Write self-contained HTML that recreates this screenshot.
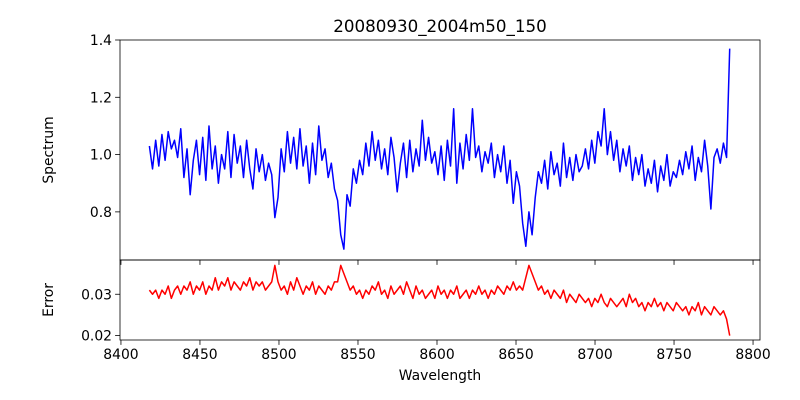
<!DOCTYPE html>
<html><head><meta charset="utf-8">
<style>
html,body{margin:0;padding:0;background:#fff;}
svg{display:block;font-family:"DejaVu Sans","Liberation Sans",sans-serif;}
</style></head>
<body>
<svg id="chart" width="800" height="400" viewBox="0 0 800 400" xmlns="http://www.w3.org/2000/svg">
<rect width="800" height="400" fill="#fff"/>
<text x="440" y="32" font-size="16.7" text-anchor="middle">20080930_2004m50_150</text>
<g id="topPanel"></g>
<g id="botPanel"></g>
<text transform="translate(53,150) rotate(-90)" font-size="13.9" text-anchor="middle">Spectrum</text>
<text transform="translate(53,300) rotate(-90)" font-size="13.9" text-anchor="middle">Error</text>
<text x="440" y="380" font-size="13.9" text-anchor="middle">Wavelength</text>
</svg>
<script>
const startWave = 8418;
const waveStep = 1.985;
const spectrum = [
1.03,0.95,1.05,0.96,1.07,0.98,1.08,1.02,1.05,0.99,
1.09,0.92,1.02,0.86,0.98,1.05,0.93,1.06,0.91,1.10,
0.95,1.03,0.90,1.00,0.95,1.08,0.92,1.07,0.97,1.03,
0.92,1.05,0.95,0.88,1.02,0.94,1.00,0.91,0.97,0.93,
0.78,0.85,1.02,0.94,1.08,0.97,1.06,0.95,1.09,0.96,
1.03,0.90,1.04,0.93,1.10,0.98,1.02,0.92,0.97,0.88,
0.84,0.72,0.67,0.86,0.82,0.95,0.90,0.98,0.93,1.04,
0.96,1.08,0.98,1.05,0.95,1.02,0.93,1.06,0.99,0.87,
0.97,1.04,0.92,1.05,0.94,1.02,0.96,1.12,0.98,1.06,
0.97,1.01,0.93,1.03,0.91,1.05,0.96,1.16,0.90,1.04,
0.95,1.07,0.98,1.16,0.99,1.03,0.94,1.01,0.97,1.04,
0.92,1.00,0.94,1.03,0.90,0.98,0.83,0.94,0.89,0.76,
0.68,0.80,0.72,0.85,0.94,0.90,0.98,0.88,1.01,0.93,
0.97,0.89,1.04,0.92,0.99,0.91,1.00,0.94,0.96,1.02,
0.95,1.05,0.97,1.08,1.03,1.16,1.00,1.08,0.98,1.05,
0.94,1.02,0.96,1.03,0.91,0.99,0.93,1.00,0.89,0.95,
0.90,0.98,0.87,0.96,0.91,1.00,0.89,0.94,0.92,0.98,
0.93,1.01,0.95,1.03,0.91,0.99,0.94,1.05,0.96,0.81,
0.99,1.02,0.97,1.04,0.99,1.37];
const errors = [
.031,.030,.031,.029,.031,.030,.032,.029,.031,.032,
.030,.032,.031,.033,.030,.032,.031,.033,.030,.032,
.031,.034,.031,.033,.032,.034,.031,.033,.032,.031,
.033,.032,.034,.031,.033,.032,.033,.031,.032,.033,
.037,.033,.031,.032,.030,.033,.031,.034,.032,.030,
.032,.031,.033,.030,.032,.031,.030,.032,.031,.033,
.033,.037,.035,.033,.031,.032,.030,.031,.029,.031,
.030,.032,.031,.033,.030,.031,.029,.032,.030,.031,
.032,.030,.033,.031,.029,.032,.030,.031,.029,.030,
.031,.029,.032,.030,.031,.029,.031,.030,.032,.029,
.030,.031,.029,.031,.030,.032,.030,.031,.029,.031,
.030,.032,.031,.030,.032,.031,.033,.031,.032,.031,
.034,.037,.035,.033,.031,.032,.030,.031,.029,.031,
.030,.029,.031,.028,.030,.029,.028,.030,.029,.028,
.029,.027,.029,.028,.030,.028,.027,.029,.028,.027,
.028,.029,.027,.030,.028,.029,.027,.028,.026,.028,
.027,.029,.027,.028,.026,.028,.027,.026,.028,.027,
.026,.027,.025,.027,.026,.028,.025,.027,.026,.025,
.027,.026,.025,.026,.024,.020];
const xTicks = [8400,8450,8500,8550,8600,8650,8700,8750,8800];
const specTicks = [0.8,1.0,1.2,1.4];
const specTickLabels = ["0.8","1.0","1.2","1.4"];
const errTicks = [0.02,0.03];
const errTickLabels = ["0.02","0.03"];

const NS="http://www.w3.org/2000/svg";
const L=120,R=760;
const xMin=8399.4,xMax=8804.4;
const xs=w=>L+(w-xMin)/(xMax-xMin)*(R-L);
const topY0=40,topY1=260, sMin=0.632,sMax=1.4;
const ys=v=>topY1-(v-sMin)/(sMax-sMin)*(topY1-topY0);
const botY0=260,botY1=340, eMin=0.01893,eMax=0.03829;
const ye=v=>botY1-(v-eMin)/(eMax-eMin)*(botY1-botY0);

function mk(tag,attrs,parent){const e=document.createElementNS(NS,tag);for(const k in attrs)e.setAttribute(k,attrs[k]);parent.appendChild(e);return e;}
const topG=document.getElementById('topPanel'),botG=document.getElementById('botPanel');

let d='';spectrum.forEach((v,i)=>{d+=(i?'L':'M')+xs(startWave+i*waveStep).toFixed(2)+','+ys(v).toFixed(2);});
const sl=mk('path',{d:d,fill:'none',stroke:'#0000ff','stroke-width':1.5,'stroke-linejoin':'round'},topG);


d='';errors.forEach((v,i)=>{d+=(i?'L':'M')+xs(startWave+i*waveStep).toFixed(2)+','+ye(v).toFixed(2);});
const el=mk('path',{d:d,fill:'none',stroke:'#ff0000','stroke-width':1.5,'stroke-linejoin':'round'},botG);



const f1=mk('rect',{x:L,y:topY0,width:R-L,height:topY1-topY0,fill:'none',stroke:'#000','stroke-width':0.8},topG);


const f2=mk('rect',{x:L,y:botY0,width:R-L,height:botY1-botY0,fill:'none',stroke:'#000','stroke-width':0.8},botG);



xTicks.forEach(t=>{const x=xs(t);
 mk('line',{x1:x,x2:x,y1:botY1,y2:botY1+4.9,stroke:'#000','stroke-width':0.8},botG);
 mk('line',{x1:x,x2:x,y1:topY1,y2:topY1+4.9,stroke:'#000','stroke-width':0.8},topG);
 const tx=mk('text',{x:x,y:botY1+19,'font-size':13.9,'text-anchor':'middle'},botG);tx.textContent=t;
 
 
});
specTicks.forEach((t,i)=>{const y=ys(t);
 mk('line',{x1:L-4.9,x2:L,y1:y,y2:y,stroke:'#000','stroke-width':0.8},topG);
 const tx=mk('text',{x:L-8,y:y+5,'font-size':13.9,'text-anchor':'end'},topG);tx.textContent=specTickLabels[i];
 
 
});
errTicks.forEach((t,i)=>{const y=ye(t);
 mk('line',{x1:L-4.9,x2:L,y1:y,y2:y,stroke:'#000','stroke-width':0.8},botG);
 const tx=mk('text',{x:L-8,y:y+5,'font-size':13.9,'text-anchor':'end'},botG);tx.textContent=errTickLabels[i];
 
 
});
</script>
</body></html>
